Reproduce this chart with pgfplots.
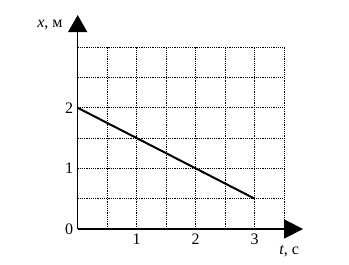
\documentclass[border=0pt]{standalone}
\usepackage{pgfplots}
\pgfplotsset{compat=1.18}
\usepackage{fontspec}
\setmainfont{Liberation Serif}
\usetikzlibrary{arrows.meta}
\begin{document}
\begin{tikzpicture}
\path[use as bounding box] (-77.7pt,-36pt) rectangle (271.3pt,229pt);
\begin{axis}[
  at={(0,0)}, anchor=origin,
  x=59pt, y=60.6pt,
  xmin=0, xmax=3.5, ymin=0, ymax=3,
  axis lines=left,
  axis line style={draw=none},
  xtick={1,2,3}, ytick={0,1,2},
  minor xtick={0.5,1,...,3.5},
  minor ytick={0.5,1,...,3},
  grid=both,
  grid style={black, line width=1pt, dash pattern=on 1.2pt off 1pt},
  minor grid style={black, line width=1pt, dash pattern=on 1.2pt off 1pt},
  major tick length=0pt, minor tick length=0pt,
  tick style={draw=none},
  /pgf/number format/assume math mode=true,
  ticklabel style={font=\fontsize{16}{19}\selectfont},
  xticklabel style={yshift=-1pt},
  yticklabel style={xshift=-1pt},
  clip=false,
]
\addplot[black, line width=2pt] coordinates {(0,2) (3,0.5)};
\draw[black, line width=1.6pt, -{Triangle[length=17pt,width=19pt]}] (axis cs:0,0) -- (axis cs:0,3.53);
\draw[black, line width=1.6pt, -{Triangle[length=19pt,width=19pt]}] (axis cs:0,0) -- (axis cs:3.82,0);
\node[anchor=east, inner sep=0pt, font=\fontsize{16}{19}\selectfont] at ([xshift=-15pt,yshift=-10pt]axis cs:0,3.53) {\textit{x}, м};
\node[anchor=center, inner sep=0pt, font=\fontsize{16}{19}\selectfont] at ([xshift=5pt,yshift=-22pt]axis cs:3.5,0) {\textit{t}, с};
\end{axis}
\end{tikzpicture}
\end{document}
